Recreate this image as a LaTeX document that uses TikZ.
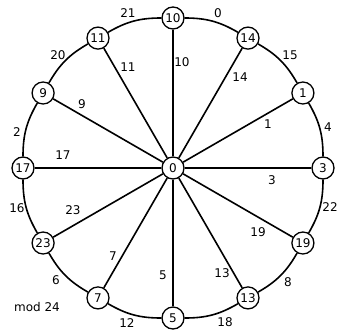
\documentclass[tikz,border=0pt]{standalone}
\usepackage{fontspec}
\setmainfont{DejaVu Sans}
\usepackage{tikz}
\usetikzlibrary{positioning}

\begin{document}
\begin{tikzpicture}[
    x=1pt, y=1pt,
    font=\fontsize{12}{14}\selectfont,
    vertex/.style={circle, draw=black, line width=1.3pt, fill=white, minimum size=22pt, inner sep=0pt},
    spoke/.style={line width=1.6pt},
    rim/.style={line width=1.6pt, bend left=15},
    lbl/.style={inner sep=1pt}
]
    \useasboundingbox (-173,-162) rectangle (166,168);

    % Hub and rim vertices
    \node[vertex] (hub) at (0,0) {0};
    \node[vertex] (v10) at (90:150) {10};
    \node[vertex] (v14) at (60:150) {14};
    \node[vertex] (v1) at (30:150) {1};
    \node[vertex] (v3) at (0:150) {3};
    \node[vertex] (v19) at (-30:150) {19};
    \node[vertex] (v13) at (-60:150) {13};
    \node[vertex] (v5) at (-90:150) {5};
    \node[vertex] (v7) at (-120:150) {7};
    \node[vertex] (v23) at (-150:150) {23};
    \node[vertex] (v17) at (180:150) {17};
    \node[vertex] (v9) at (150:150) {9};
    \node[vertex] (v11) at (120:150) {11};

    % Spokes
    \draw[spoke] (hub) -- (v10);
    \draw[spoke] (hub) -- (v14);
    \draw[spoke] (hub) -- (v1);
    \draw[spoke] (hub) -- (v3);
    \draw[spoke] (hub) -- (v19);
    \draw[spoke] (hub) -- (v13);
    \draw[spoke] (hub) -- (v5);
    \draw[spoke] (hub) -- (v7);
    \draw[spoke] (hub) -- (v23);
    \draw[spoke] (hub) -- (v17);
    \draw[spoke] (hub) -- (v9);
    \draw[spoke] (hub) -- (v11);

    % Rim arcs
    \draw[rim] (v10) to (v14);
    \draw[rim] (v14) to (v1);
    \draw[rim] (v1) to (v3);
    \draw[rim] (v3) to (v19);
    \draw[rim] (v19) to (v13);
    \draw[rim] (v13) to (v5);
    \draw[rim] (v5) to (v7);
    \draw[rim] (v7) to (v23);
    \draw[rim] (v23) to (v17);
    \draw[rim] (v17) to (v9);
    \draw[rim] (v9) to (v11);
    \draw[rim] (v11) to (v10);

    % Spoke labels
    \node[lbl] (s10) at (9,106) {10};
    \node[lbl] (s14) at (67,91) {14};
    \node[lbl] (s1) at (95,44) {1};
    \node[lbl] (s3) at (99,-12) {3};
    \node[lbl] (s19) at (85,-64) {19};
    \node[lbl] (s13) at (49,-105) {13};
    \node[lbl] (s5) at (-10,-107) {5};
    \node[lbl] (s7) at (-60,-88) {7};
    \node[lbl] (s23) at (-100,-42) {23};
    \node[lbl] (s17) at (-110,13) {17};
    \node[lbl] (s9) at (-91,64) {9};
    \node[lbl] (s11) at (-45,101) {11};

    % Rim labels
    \node[lbl] (a0) at (45,155) {0};
    \node[lbl] (a15) at (117,113) {15};
    \node[lbl] (a4) at (155,41) {4};
    \node[lbl] (a22) at (157,-39) {22};
    \node[lbl] (a8) at (115,-114) {8};
    \node[lbl] (a18) at (52,-154) {18};
    \node[lbl] (a12) at (-46,-155) {12};
    \node[lbl] (a6) at (-117,-112) {6};
    \node[lbl] (a16) at (-156,-40) {16};
    \node[lbl] (a2) at (-156,36) {2};
    \node[lbl] (a20) at (-115,113) {20};
    \node[lbl] (a21) at (-45,155) {21};

    \node[lbl] (modulus) at (-136,-139) {mod 24};

\end{tikzpicture}
\end{document}
